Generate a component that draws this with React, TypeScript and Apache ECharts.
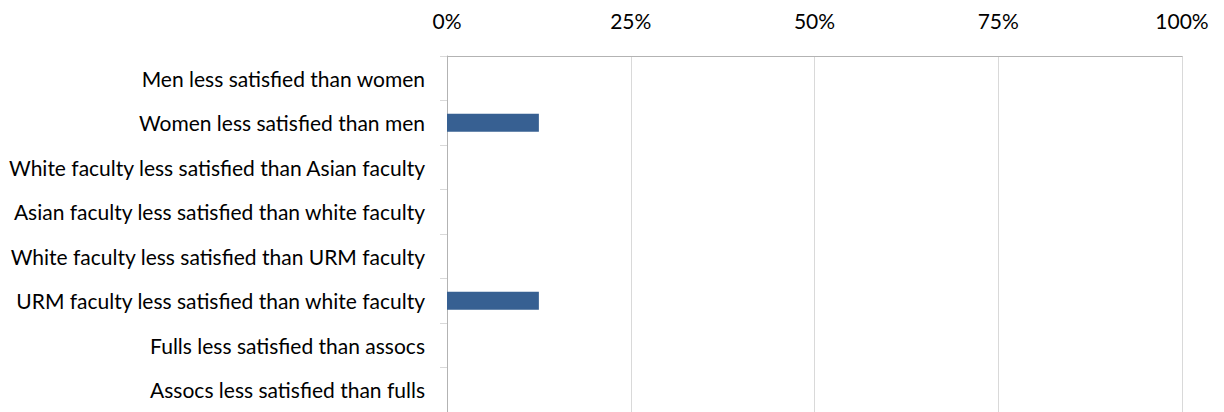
import React, { useEffect, useRef } from "react";
import * as echarts from "echarts";

const categories = [
  "Men less satisfied than women",
  "Women less satisfied than men",
  "White faculty less satisfied than Asian faculty",
  "Asian faculty less satisfied than white faculty",
  "White faculty less satisfied than URM faculty",
  "URM faculty less satisfied than white faculty",
  "Fulls less satisfied than assocs",
  "Assocs less satisfied than fulls",
];
const values = [0, 12.5, 0, 0, 0, 12.5, 0, 0];
const xTicks = [0, 25, 50, 75, 100];

export default function App() {
  const ref = useRef<HTMLDivElement>(null);
  useEffect(() => {
    if (!ref.current) return;
    const chart = echarts.init(ref.current, null, { renderer: "svg" });
    chart.setOption({
      animation: false,
      grid: { left: 447, right: 42, top: 56, height: 367, containLabel: false },
      xAxis: {
        type: "value",
        position: "top",
        min: xTicks[0],
        max: xTicks[xTicks.length - 1],
        interval: 25,
        axisLine: { show: true, lineStyle: { color: "#b3b3b3", width: 1 } },
        axisTick: { show: false },
        splitLine: { show: true, lineStyle: { color: "#d9d9d9", width: 1 } },
        axisLabel: {
          formatter: (v: number) => v + "%",
          fontFamily: "Lato",
          fontSize: 21,
          color: "#000",
          margin: 25,
        },
      },
      yAxis: {
        type: "category",
        inverse: true,
        data: categories,
        axisLine: { show: true, lineStyle: { color: "#b3b3b3", width: 1 } },
        axisTick: { show: true, length: 7, lineStyle: { color: "#d9d9d9" } },
        axisLabel: {
          fontFamily: "Lato",
          fontSize: 21,
          color: "#000",
          margin: 22,
        },
        splitLine: { show: false },
      },
      series: [
        {
          type: "bar",
          data: values,
          barWidth: 18,
          itemStyle: { color: "#376092" },
        },
      ],
    });
    return () => chart.dispose();
  }, []);
  return <div ref={ref} style={{ width: 1224, height: 412, position: "absolute", left: 0, top: 0 }} />;
}
